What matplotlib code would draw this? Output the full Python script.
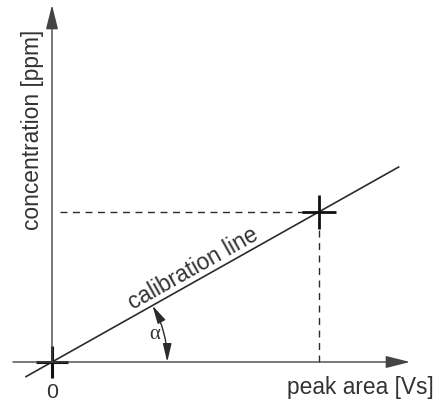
import numpy as np
import matplotlib
matplotlib.use("Agg")
import matplotlib.pyplot as plt
from matplotlib.transforms import ScaledTranslation

# ---- data (schematic units) ----
calib_area = [-0.8, 10.4]          # calibration line, x ends
calib_conc = [-0.45, 5.85]         # calibration line, y ends
sample_area = [8.0]                # measured peak area
sample_conc = [4.5]                # resulting concentration
origin = [0.0]
x_axis_range = [-1.17, 10.72]
y_axis_range = [0.0, 10.69]
alpha_radius = 3.45
labels = {"x": "peak area [Vs]", "y": "concentration [ppm]",
          "line": "calibration line", "zero": "0", "angle": "α"}

W, H, DPI = 442, 409, 100
S = 33.4  # px per unit
fig = plt.figure(figsize=(W / DPI, H / DPI), dpi=DPI)
ax = fig.add_axes([0, 0, 1, 1])
ax.set_xlim(-52 / S, (W - 52) / S)
ax.set_ylim(-47 / S, (H - 47) / S)
ax.axis("off")

line_c = "#2b2b2b"
axis_c = "#444444"
text_c = "#333333"
font = "Liberation Sans"
fs = 16.4

# axes with arrowheads
ax.annotate("", xy=(x_axis_range[1], 0), xytext=(x_axis_range[0], 0),
            arrowprops=dict(arrowstyle="-|>,head_length=0.6,head_width=0.15",
                            mutation_scale=25, lw=1.0, color=axis_c,
                            shrinkA=0, shrinkB=0))
ax.annotate("", xy=(0, y_axis_range[1]), xytext=(0, y_axis_range[0]),
            arrowprops=dict(arrowstyle="-|>,head_length=0.6,head_width=0.15",
                            mutation_scale=25, lw=1.0, color=axis_c,
                            shrinkA=0, shrinkB=0))

# calibration line
ax.plot(calib_area, calib_conc, color=line_c, lw=1.2, solid_capstyle="butt")

# dashed guides
ax.plot([0.25, sample_area[0]], [sample_conc[0], sample_conc[0]],
        color=line_c, lw=1.0, linestyle=(0, (5, 4)))
ax.plot([sample_area[0], sample_area[0]], [0, sample_conc[0]],
        color=line_c, lw=1.0, linestyle=(0, (5, 4)))

# crosses
ax.plot(sample_area, sample_conc, marker="+", ms=25, mew=2.0, color="#111111",
        linestyle="none")
ax.plot(origin, origin, marker="+", ms=23, mew=2.2, color="#111111",
        linestyle="none")

# angle arc
slope = (calib_conc[1] - calib_conc[0]) / (calib_area[1] - calib_area[0])
theta = np.arctan(slope)
ax.annotate("", xy=(alpha_radius * np.cos(theta), alpha_radius * np.sin(theta)),
            xytext=(alpha_radius, 0),
            arrowprops=dict(arrowstyle="<|-|>,head_length=0.55,head_width=0.13",
                            mutation_scale=20, lw=1.0, color=line_c,
                            shrinkA=0, shrinkB=0,
                            connectionstyle="arc3,rad=0.13"))
ax.text(3.08, 0.81, labels["angle"], fontsize=15, family="Liberation Serif",
        color=text_c, ha="center", va="center")

# labels
ax.text(7.04, -0.96, labels["x"], fontsize=fs, family=font, color=text_c,
        ha="left", va="baseline")
ax.text(0, -1.08, labels["zero"], fontsize=fs - 1, family=font, color=text_c,
        ha="center", va="baseline")
ax.text(-0.59, 6.95, labels["y"], fontsize=fs, family=font, color=text_c,
        rotation=90, ha="center", va="center")

deg = np.degrees(theta)
off = ScaledTranslation(-np.sin(theta) * 0.055, np.cos(theta) * 0.055,
                        fig.dpi_scale_trans)
x0 = 2.5
ax.text(x0, slope * x0 + (calib_conc[0] - slope * calib_area[0]), labels["line"],
        fontsize=fs, family=font, color=text_c, rotation=deg,
        rotation_mode="anchor", ha="left", va="baseline",
        transform=ax.transData + off)

fig.savefig("out.png", dpi=DPI, facecolor="white")
